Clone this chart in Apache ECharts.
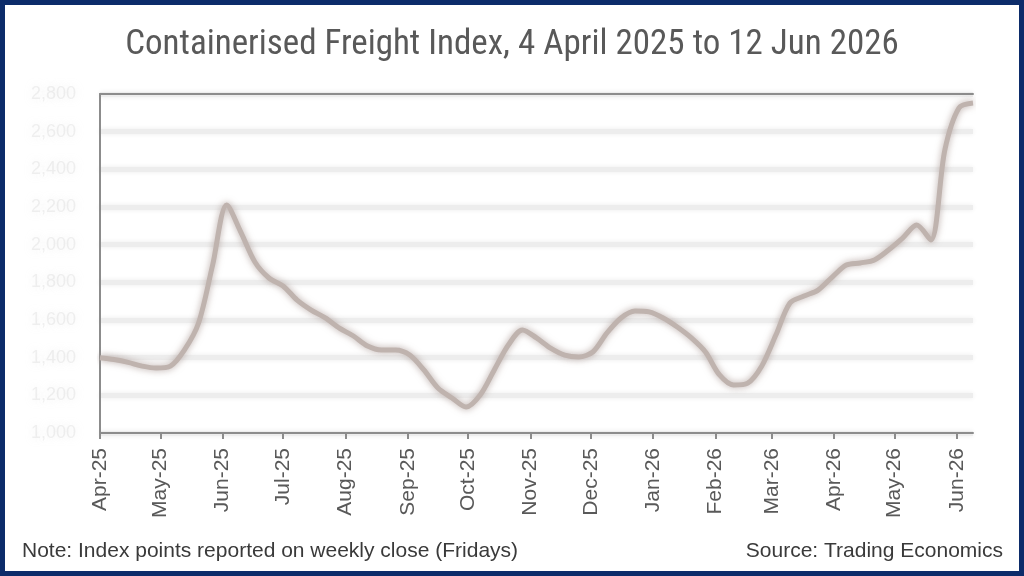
<!DOCTYPE html>
<html>
<head>
<meta charset="utf-8">
<script src="https://cdn.jsdelivr.net/npm/echarts@6/dist/echarts.min.js"></script>
<style>
  html, body { margin: 0; padding: 0; background: #fff; }
  #chart { width: 1024px; height: 576px; }
</style>
</head>
<body>
<div id="chart"></div>
<script>
// weekly close (Fridays), starting 4 Apr 2025
var startDate = "2025-04-04";
var indexValues = [
  1400, 1390, 1375, 1355, 1345, 1355, 1441, 1584, 1892, 2211,
  2067, 1908, 1823, 1781, 1706, 1653, 1611, 1557, 1515, 1462,
  1441, 1441, 1414, 1335, 1239, 1186, 1138, 1202, 1335, 1467,
  1547, 1505, 1451, 1414, 1404, 1430, 1531, 1611, 1648, 1643,
  1611, 1563, 1505, 1430, 1308, 1255, 1265, 1356, 1520, 1690,
  1727, 1759, 1828, 1892, 1903, 1919, 1972, 2035, 2104, 2025,
  2503, 2726, 2752
];
var tickDates = [
  "2025-04-04", "2025-05-04", "2025-06-04", "2025-07-04", "2025-08-04",
  "2025-09-04", "2025-10-04", "2025-11-04", "2025-12-04", "2026-01-04",
  "2026-02-04", "2026-03-04", "2026-04-04", "2026-05-04", "2026-06-04"
];
var tickLabels = [
  "Apr-25", "May-25", "Jun-25", "Jul-25", "Aug-25", "Sep-25", "Oct-25",
  "Nov-25", "Dec-25", "Jan-26", "Feb-26", "Mar-26", "Apr-26", "May-26", "Jun-26"
];
var yMin = 1000, yMax = 2800, yStep = 200;

var DAY = 86400000;
var t0 = Date.parse(startDate + "T00:00:00Z");
var seriesData = indexValues.map(function (v, i) { return [t0 + i * 7 * DAY, v]; });
var tickValues = tickDates.map(function (d) { return Date.parse(d + "T00:00:00Z"); });
var xMax = t0 + (indexValues.length - 1) * 7 * DAY;

var narrow = "'Roboto Condensed', 'DejaVu Sans Condensed', 'Liberation Sans Narrow', 'Open Sans Condensed', sans-serif";

var myChart = echarts.init(document.getElementById("chart"));
var option = {
  animation: false,
  title: [
    {
      text: "Containerised Freight Index, 4 April 2025 to 12 Jun 2026",
      left: "center",
      top: 23,
      textStyle: { fontFamily: narrow, fontSize: 35, fontWeight: "normal", color: "#595959" }
    },
    {
      text: "Note: Index points reported on weekly close (Fridays)",
      left: 17,
      top: 536,
      textStyle: { fontFamily: "Liberation Sans", fontSize: 21, fontWeight: "normal", color: "#3a3a3a" }
    },
    {
      text: "Source: Trading Economics",
      right: 16,
      top: 536,
      textStyle: { fontFamily: "Liberation Sans", fontSize: 21, fontWeight: "normal", color: "#3a3a3a" }
    }
  ],
  graphic: [
    {
      type: "rect",
      shape: { x: 2.5, y: 2.5, width: 1019, height: 571 },
      style: { fill: null, stroke: "#0c2c6a", lineWidth: 5 },
      silent: true
    }
  ],
  grid: { left: 100, right: 51, top: 94, bottom: 143 },
  xAxis: [
    {
      type: "value",
      min: t0,
      max: xMax,
      axisLine: { lineStyle: { color: "#8c8c8c", width: 2 } },
      axisTick: { show: true, customValues: tickValues, length: 6, lineStyle: { color: "#8c8c8c", width: 2 } },
      axisLabel: {
        customValues: tickValues,
        rotate: 90,
        margin: 15,
        fontFamily: "Liberation Sans",
        fontSize: 21,
        color: "#595959",
        formatter: function (val) {
          var i = tickValues.indexOf(val);
          return i >= 0 ? tickLabels[i] : "";
        }
      },
      splitLine: { show: false }
    },
    {
      type: "value",
      position: "top",
      min: 0,
      max: 1,
      axisLine: { show: true, lineStyle: { color: "#8c8c8c", width: 2 } },
      axisTick: { show: false },
      axisLabel: { show: false },
      splitLine: { show: false }
    }
  ],
  yAxis: {
    type: "value",
    min: yMin,
    max: yMax,
    interval: yStep,
    axisLine: { show: true, lineStyle: { color: "#8c8c8c", width: 2 } },
    axisTick: { show: false },
    axisLabel: {
      margin: 24,
      fontFamily: "Liberation Sans",
      fontSize: 18,
      color: "rgba(205,205,205,0.3)",
      textShadowColor: "rgba(195,195,195,0.9)",
      textShadowBlur: 10,
      formatter: function (v) { return v.toLocaleString("en-US"); }
    },
    splitLine: {
      lineStyle: { color: "#ededed", width: 5, shadowBlur: 5, shadowColor: "#ececec" }
    }
  },
  series: [
    {
      name: "Containerised Freight Index",
      type: "line",
      xAxisIndex: 0,
      data: seriesData,
      smooth: 0.3,
      showSymbol: false,
      lineStyle: {
        color: "#bfb3ae",
        width: 5,
        shadowBlur: 7,
        shadowColor: "rgba(160,142,136,0.75)"
      }
    }
  ]
};
myChart.setOption(option);
</script>
</body>
</html>
